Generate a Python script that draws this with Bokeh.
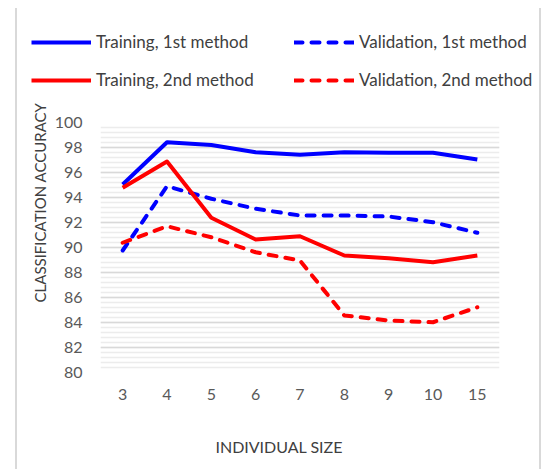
from bokeh.plotting import figure
from bokeh.layouts import column, row
from bokeh.models import Legend, LegendItem, Label, Title, SingleIntervalTicker, Range1d, FactorRange
from bokeh.embed import file_html
from bokeh.resources import INLINE

sizes = ["3", "4", "5", "6", "7", "8", "9", "10", "15"]
train_1st = [95.04, 98.42, 98.20, 97.62, 97.42, 97.62, 97.58, 97.58, 97.04]
valid_1st = [89.76, 94.90, 93.90, 93.10, 92.56, 92.56, 92.48, 92.02, 91.18]
train_2nd = [94.78, 96.88, 92.38, 90.64, 90.90, 89.36, 89.14, 88.82, 89.36]
valid_2nd = [90.38, 91.70, 90.82, 89.62, 88.96, 84.56, 84.16, 84.02, 85.22]
series_labels = ["Training, 1st method", "Validation, 1st method",
                 "Training, 2nd method", "Validation, 2nd method"]

FONT = "Lato"
BLUE = "#0000ff"
RED = "#ff0000"
LW = 4
DASH = "8 9"
styles = [dict(line_color=BLUE), dict(line_color=BLUE, line_dash=DASH, line_cap="round"),
          dict(line_color=RED), dict(line_color=RED, line_dash=DASH, line_cap="round")]

W = 522


def blank(w, h):
    f = figure(width=w, height=h, x_range=Range1d(0, w), y_range=Range1d(0, h),
               x_axis_type=None, y_axis_type=None, min_border=0,
               output_backend="svg", toolbar_location=None)
    f.outline_line_color = None
    f.background_fill_color = "white"
    f.border_fill_color = "white"
    return f


# ---- legend strip (top) ----
H_TOP = 92
f_top = blank(W, H_TOP)
# legend sample glyphs only (data kept outside the visible range)
dummies = [f_top.line([-100, -90], [-100, -100], line_width=LW, line_join="round", **st) for st in styles]
legend = Legend(items=[LegendItem(label=lab, renderers=[r]) for lab, r in zip(series_labels, dummies)],
                location=(14, 5.5), orientation="horizontal", ncols=2)
legend.padding = 0
legend.margin = 0
legend.border_line_color = None
legend.background_fill_alpha = 0
legend.glyph_width = 60
legend.glyph_height = 30
legend.label_height = 30
legend.label_width = 190
legend.label_standoff = 5
legend.spacing = 8
legend.label_text_font = FONT
legend.label_text_font_size = "17px"
legend.label_text_color = "#404040"
f_top.add_layout(legend, "center")

# ---- main chart ----
H_MID = 320
p = figure(width=W, height=H_MID, x_range=FactorRange(*sizes), y_range=Range1d(80, 100),
           output_backend="svg", toolbar_location=None,
           min_border_left=83, min_border_right=40, min_border_top=22, min_border_bottom=48)
p.outline_line_color = None
p.background_fill_color = "white"
p.border_fill_color = "white"

p.xgrid.grid_line_color = None
p.yaxis.ticker = SingleIntervalTicker(interval=2, num_minor_ticks=5)
p.ygrid.grid_line_color = "#d9d9d9"
p.ygrid.grid_line_width = 1.5
p.ygrid.minor_grid_line_color = "#ececec"
p.ygrid.minor_grid_line_width = 1.5

for ax in (p.xaxis, p.yaxis):
    ax.axis_line_color = None
    ax.major_tick_line_color = None
    ax.minor_tick_line_color = None
    ax.major_tick_out = 0
    ax.major_tick_in = 0
    ax.minor_tick_out = 0
    ax.major_label_text_font = FONT
    ax.major_label_text_font_size = "16px"
    ax.major_label_text_color = "#595959"
p.yaxis.major_label_standoff = 18
p.xaxis.major_label_standoff = 16

for vals, st in zip([train_1st, valid_1st, train_2nd, valid_2nd], styles):
    p.line(sizes, vals, line_width=LW, line_join="round", **st)

p.add_layout(Title(text="CLASSIFICATION ACCURACY", align="left", offset=70, standoff=5,
                   text_font=FONT, text_font_size="15px", text_font_style="normal",
                   text_color="#404040"), "left")

# ---- bottom strip with x title ----
H_BOT = 49
f_bot = blank(W, H_BOT)
f_bot.add_layout(Label(x=261.7, y=H_BOT - 26, text="INDIVIDUAL SIZE",
                       text_align="center", text_baseline="middle",
                       text_font=FONT, text_font_size="16px", text_color="#404040"))

layout = column(f_top, row(p), f_bot,
                styles={"border-left": "2px solid #d9d9d9", "border-right": "2px solid #d9d9d9",
                        "margin-left": "15px", "margin-top": "8px"})
open("out.html", "w").write(file_html(layout, INLINE))
